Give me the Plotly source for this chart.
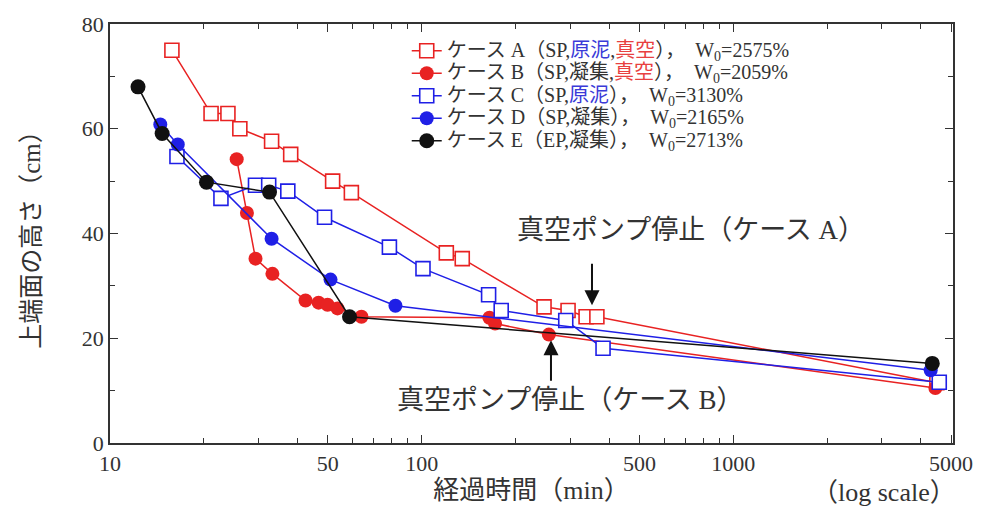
import plotly.graph_objects as go

RED = "#e82222"
BLUE = "#1f1fe6"
BLACK = "#111111"

# Case A (SP, 原泥, 真空)
A_x = [15.8, 21.1, 23.9, 26.1, 33.0, 38.0, 51.8, 59.5, 120, 135, 247, 295, 337, 365, 4500]
A_y = [75.0, 62.9, 62.9, 60.0, 57.6, 55.1, 50.0, 47.8, 36.3, 35.2, 26.0, 25.3, 24.1, 24.1, 11.5]
# Case B (SP, 凝集, 真空)
B_x = [25.5, 27.5, 29.3, 33.2, 42.4, 46.7, 49.9, 53.7, 64.1, 165, 172, 256, 4450]
B_y = [54.2, 43.9, 35.2, 32.3, 27.2, 26.8, 26.4, 25.7, 24.1, 23.9, 22.8, 20.7, 10.5]
# Case C (SP, 原泥)
C_x = [16.4, 22.7, 29.3, 32.3, 37.2, 48.8, 78.8, 101, 164, 180, 290, 382, 4580]
C_y = [54.7, 46.7, 49.2, 49.2, 48.1, 43.1, 37.4, 33.3, 28.3, 25.3, 23.4, 18.1, 11.6]
# Case D (SP, 凝集)
D_x = [14.5, 16.5, 33.0, 51.0, 82.4, 4300]
D_y = [60.8, 57.0, 39.0, 31.2, 26.2, 13.9]
# Case E (EP, 凝集)
E_x = [12.3, 14.7, 20.4, 32.5, 58.7, 4350]
E_y = [68.0, 59.1, 49.8, 47.9, 24.1, 15.2]

LB = "<span style='color:#3a3ad8'>原泥</span>"
LR = "<span style='color:#e84040'>真空</span>"
names = [
    f"ケース A（SP,{LB},{LR}），  W<sub>0</sub>=2575%",
    f"ケース B（SP,凝集,{LR}），  W<sub>0</sub>=2059%",
    f"ケース C（SP,{LB}），  W<sub>0</sub>=3130%",
    "ケース D（SP,凝集），  W<sub>0</sub>=2165%",
    "ケース E（EP,凝集），  W<sub>0</sub>=2713%",
]

x_tickvals = [10, 50, 100, 500, 1000, 5000]
x_minor = [20, 30, 40, 60, 70, 80, 90, 200, 300, 400, 600, 700, 800, 900, 2000, 3000, 4000]
y_tickvals = [0, 20, 40, 60, 80]

FONT = "'Liberation Serif', 'Noto Sans CJK JP', serif"
TXT = "#333333"

fig = go.Figure()

def add(x, y, name, color, symbol, filled, size):
    fig.add_trace(go.Scatter(
        x=x, y=y, name=f"<span style='font-size:20px'>{name}</span>", mode="lines+markers",
        line=dict(color=color, width=1.5),
        marker=dict(symbol=symbol, size=size,
                    color=color if filled else "white",
                    line=dict(color=color, width=1.6 if not filled else 0)),
    ))

add(A_x, A_y, names[0], RED, "square", False, 14)
add(B_x, B_y, names[1], RED, "circle", True, 14)
add(C_x, C_y, names[2], BLUE, "square", False, 14)
add(D_x, D_y, names[3], BLUE, "circle", True, 14)
add(E_x, E_y, names[4], BLACK, "circle", True, 15)

axis_common = dict(
    showline=True, linecolor="#333333", linewidth=1.5, mirror="ticks",
    ticks="inside", ticklen=8, tickwidth=1.3, tickcolor="#333333",
    showgrid=False, zeroline=False,
    tickfont=dict(family=FONT, size=22, color=TXT),
)

fig.update_xaxes(
    type="log", range=[1, 3.705],
    tickmode="array", tickvals=x_tickvals, ticktext=[str(v) for v in x_tickvals],
    minor=dict(tickmode="array", tickvals=x_minor, ticks="inside", ticklen=5,
               tickwidth=1.2, tickcolor="#333333", showgrid=False),
    title=dict(text="経過時間（min）", font=dict(family=FONT, size=26, color=TXT), standoff=5),
    **axis_common,
)
fig.update_yaxes(
    range=[0, 80],
    tickmode="array", tickvals=y_tickvals,
    minor=dict(tickmode="array", tickvals=[10, 30, 50, 70], ticks="inside", ticklen=5,
               tickwidth=1.2, tickcolor="#333333", showgrid=False),
    title=dict(text="上端面の高さ（cm）", font=dict(family=FONT, size=25, color=TXT), standoff=34),
    **axis_common,
)

fig.add_annotation(x=2.5466, y=26.3, xref="x", yref="y", ax=0, ay=-43,
                   showarrow=True, arrowhead=2, arrowsize=1.5, arrowwidth=2, arrowcolor="#111111", text="")
fig.add_annotation(x=2.415, y=19.6, xref="x", yref="y", ax=0, ay=42,
                   showarrow=True, arrowhead=2, arrowsize=1.5, arrowwidth=2, arrowcolor="#111111", text="")
fig.add_annotation(x=2.863, y=40.7, xref="x", yref="y", showarrow=False,
                   text="真空ポンプ停止（ケース A）", font=dict(family=FONT, size=27, color=TXT))
fig.add_annotation(x=2.477, y=8.2, xref="x", yref="y", showarrow=False,
                   text="真空ポンプ停止（ケース B）", font=dict(family=FONT, size=27, color=TXT))
fig.add_annotation(xref="paper", yref="paper", x=(886 - 110) / 845, y=-(493 - 443) / 421,
                   xanchor="center", yanchor="middle",
                   showarrow=False, text="（log scale）",
                   font=dict(family=FONT, size=26, color=TXT))

fig.update_layout(
    width=985, height=512,
    margin=dict(l=110, r=30, t=22, b=69),
    paper_bgcolor="white", plot_bgcolor="white",
    showlegend=True,
    legend=dict(x=0.352, y=0.975, xanchor="left", yanchor="top",
                bgcolor="rgba(0,0,0,0)", borderwidth=0,
                font=dict(family=FONT, size=15, color=TXT),
                itemwidth=30),
)

fig.write_html("out.html")
